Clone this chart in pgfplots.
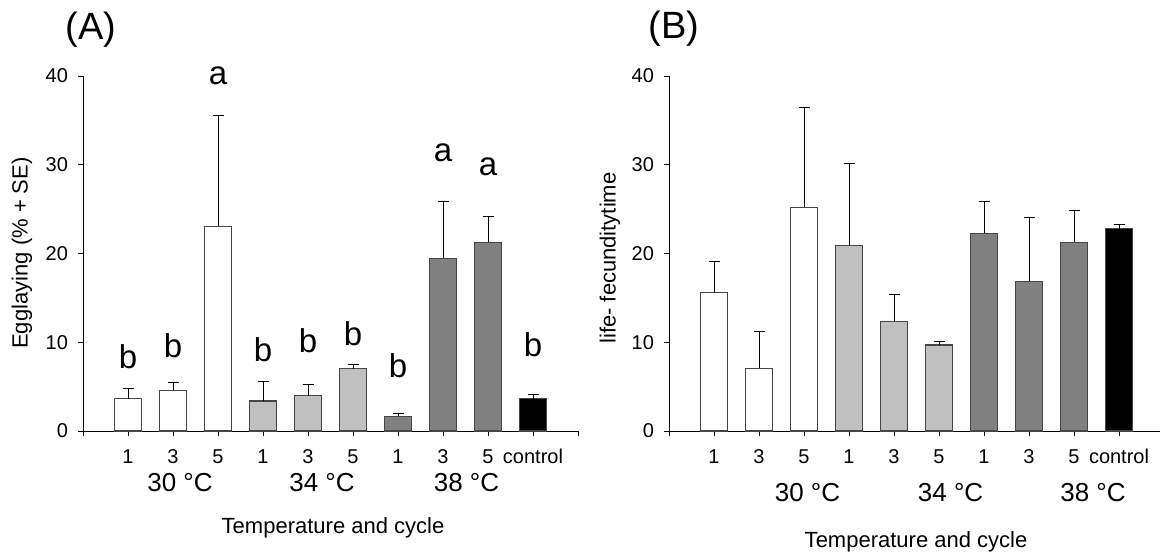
\documentclass[border=0pt]{standalone}
\usepackage{fontspec}
\setmainfont{Liberation Sans}
\usepackage{pgfplots}
\pgfplotsset{compat=1.18}
\definecolor{lgray}{RGB}{192,192,192}
\definecolor{dgray}{RGB}{128,128,128}
\definecolor{barline}{RGB}{70,70,70}
\tikzset{lett/.style={font=\fontsize{16.5}{18}\selectfont}}
\pgfplotsset{
 myaxis/.style={
  scale only axis, axis lines=left, axis line style={-, line width=0.5pt, black},
  xmin=0, ymin=0, ymax=40, ytick={0,10,20,30,40},
  tick align=outside, major tick length=2.5pt, tick style={black, line width=0.5pt},
  ticklabel style={font=\fontsize{10}{11}\selectfont},
  /pgf/number format/assume math mode=true,
  xticklabel style={yshift=-3pt, text height=0.72em, text depth=0.05em},
  yticklabel style={xshift=-1.5pt},
  clip=false,
  height=177.5pt,
 },
 mybar/.style={ybar, bar width=13.75pt, bar shift=0pt, draw=barline, line width=0.6pt, fill=#1,
   error bars/.cd, y dir=plus, y explicit, error bar style={black, line width=0.5pt},
   error mark options={rotate=90, black, line width=0.5pt, mark size=2.75pt}},
}
\begin{document}
\begin{tikzpicture}
\useasboundingbox (0,0) rectangle (580pt,278.5pt);
% ---------------- Panel A
\begin{axis}[myaxis, at={(41.5pt,63pt)}, anchor=south west, width=247.5pt, xmax=11,
  xtick={0,...,11}, xticklabels={,1,3,5,1,3,5,1,3,5,control,}]
\addplot[mybar=white] table[x=x, y=y, y error=e] {
x y e
1 3.63 1.20
2 4.60 0.87
3 23.08 12.48
};
\addplot[mybar=lgray] table[x=x, y=y, y error=e] {
x y e
4 3.37 2.17
5 4.00 1.24
6 7.00 0.45
};
\addplot[mybar=dgray] table[x=x, y=y, y error=e] {
x y e
7 1.65 0.30
8 19.44 6.42
9 21.24 2.90
};
\addplot[mybar=black] table[x=x, y=y, y error=e] {
x y e
10 3.63 0.45
};
\node[lett] at (axis cs:1,8.37) {b};
\node[lett] at (axis cs:2,9.6) {b};
\node[lett] at (axis cs:3,40.0) {a};
\node[lett] at (axis cs:4,9.13) {b};
\node[lett] at (axis cs:5,10.17) {b};
\node[lett] at (axis cs:6,11.0) {b};
\node[lett] at (axis cs:7,7.36) {b};
\node[lett] at (axis cs:8,31.3) {a};
\node[lett] at (axis cs:9,29.8) {a};
\node[lett] at (axis cs:10,9.69) {b};
\end{axis}
% ---------------- Panel B
\begin{axis}[myaxis, at={(334.5pt,63pt)}, anchor=south west, width=245.5pt, xmax=10.911,
  xtick={0,...,10}, xticklabels={,1,3,5,1,3,5,1,3,5,control}]
\addplot[mybar=white] table[x=x, y=y, y error=e] {
x y e
1 15.60 3.46
2 7.07 4.13
3 25.19 11.21
};
\addplot[mybar=lgray] table[x=x, y=y, y error=e] {
x y e
4 20.86 9.24
5 12.33 3.07
6 9.70 0.34
};
\addplot[mybar=dgray] table[x=x, y=y, y error=e] {
x y e
7 22.26 3.57
8 16.88 7.18
9 21.24 3.57
};
\addplot[mybar=black] table[x=x, y=y, y error=e] {
x y e
10 22.78 0.45
};
\end{axis}
% ---------------- texts
\node[font=\fontsize{19}{21}\selectfont] at (45.5pt,263.5pt) {(A)};
\node[font=\fontsize{19}{21}\selectfont] at (337pt,264pt) {(B)};
\node[font=\fontsize{11}{12}\selectfont, rotate=90] at (11pt,152pt) {Egglaying (\% + SE)};
\node[font=\fontsize{11}{12}\selectfont, rotate=90] at (305pt,149.5pt) {life- fecunditytime};
\node[font=\fontsize{13}{14}\selectfont] at (90pt,37pt) {30 °C};
\node[font=\fontsize{13}{14}\selectfont] at (161pt,37pt) {34 °C};
\node[font=\fontsize{13}{14}\selectfont] at (233.25pt,37pt) {38 °C};
\node[font=\fontsize{13}{14}\selectfont] at (403.75pt,32pt) {30 °C};
\node[font=\fontsize{13}{14}\selectfont] at (475.3pt,32pt) {34 °C};
\node[font=\fontsize{13}{14}\selectfont] at (546.5pt,32pt) {38 °C};
\node[font=\fontsize{11}{12}\selectfont] at (166.5pt,14.5pt) {Temperature and cycle};
\node[font=\fontsize{11}{12}\selectfont] at (458pt,7.5pt) {Temperature and cycle};
\end{tikzpicture}
\end{document}
